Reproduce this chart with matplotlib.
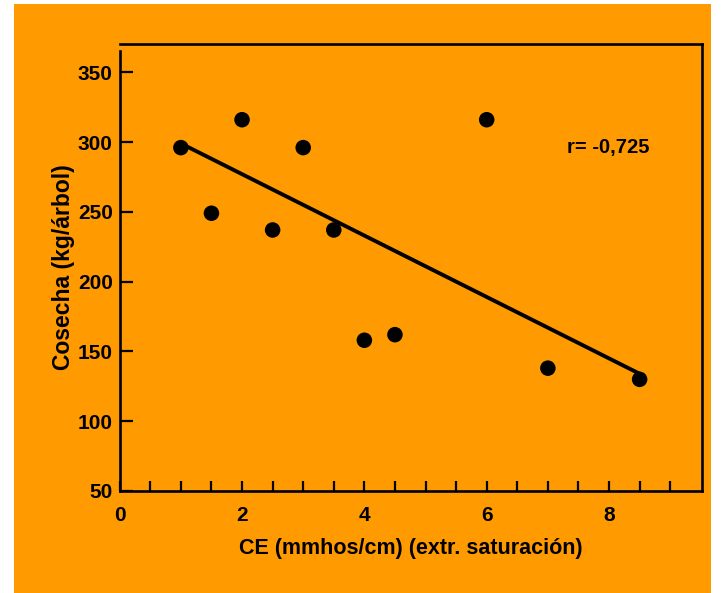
import matplotlib
matplotlib.use("Agg")
import matplotlib.pyplot as plt
from matplotlib.patches import Rectangle

# Data
ce = [1.0, 1.5, 2.0, 2.5, 3.0, 3.5, 4.0, 4.5, 6.0, 7.0, 8.5]
cosecha = [296, 249, 316, 237, 296, 237, 158, 162, 316, 138, 130]
trend_x = [1.0, 8.5]
trend_y = [299, 134]
x_major = [0, 2, 4, 6, 8]
x_minor = [0.5 * i for i in range(1, 19)]
y_ticks = [50, 100, 150, 200, 250, 300, 350]
r_text = "r= -0,725"
xlabel = "CE (mmhos/cm) (extr. saturación)"
ylabel = "Cosecha (kg/árbol)"

ORANGE = "#FF9A00"
plt.rcParams['font.family'] = ['Liberation Sans', 'DejaVu Sans']
plt.rcParams['font.weight'] = 'bold'

fig = plt.figure(figsize=(7.22, 5.93), dpi=100)
fig.patch.set_facecolor("white")
fig.patches.append(Rectangle((14 / 722, 0), (711 - 14) / 722, 1 - 4 / 593,
                             transform=fig.transFigure, facecolor=ORANGE,
                             edgecolor="none", zorder=-10))

ax = fig.add_axes([119.7 / 722, (593 - 491) / 593, (702 - 119.7) / 722, (491 - 43.5) / 593])
ax.set_zorder(1)
ax.set_facecolor(ORANGE)

ax.scatter(ce, cosecha, s=125, color="black", zorder=3, edgecolors="none")
ax.plot(trend_x, trend_y, color="black", lw=2.8, solid_capstyle="butt", zorder=2)

ax.set_xlim(0, 9.52)
ax.set_ylim(50, 370.6)

ax.set_xticks(x_major)
ax.set_xticklabels([str(v) for v in x_major])
ax.set_xticks(x_minor, minor=True)
ax.set_yticks(y_ticks)
ax.set_yticklabels([str(v) for v in y_ticks])

ax.tick_params(axis='x', which='both', direction='in', length=7.5, width=1.6,
               pad=10.5, labelsize=15, colors='black')
ax.tick_params(axis='y', which='both', direction='in', length=9, width=1.6,
               pad=5, labelsize=15, colors='black')
ax.tick_params(top=False, right=False)

for s in ax.spines.values():
    s.set_linewidth(1.9)
    s.set_color("black")
ax.spines['left'].set_bounds(50, 365)

ax.set_xlabel(xlabel, fontsize=15.5, fontweight='bold', labelpad=10)
ax.set_ylabel(ylabel, fontsize=16.5, fontweight='bold', labelpad=2)

ax.text(7.31, 296, r_text, ha='left', va='center', fontsize=14.5, fontweight='bold')

fig.savefig("out.png", dpi=100, facecolor=fig.get_facecolor())
